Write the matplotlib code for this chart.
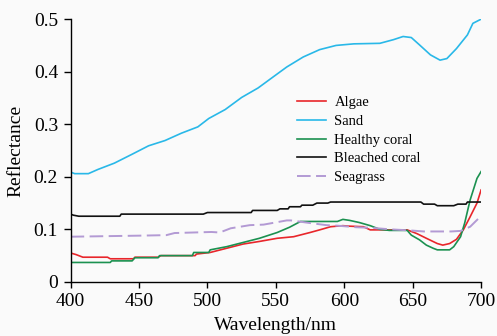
import matplotlib
matplotlib.use("Agg")
from matplotlib import pyplot as plt

# wavelengths (nm) and reflectance, one pair per class
sand_wl = [400, 403, 413, 420, 432, 445, 457, 469, 481, 493, 501, 513, 525, 537, 548,
           558, 570, 582, 594, 607, 626, 636, 643, 649, 655, 663, 670, 675, 682, 690, 694, 700]
sand = [0.209, 0.206, 0.206, 0.214, 0.226, 0.243, 0.259, 0.269, 0.283, 0.295, 0.311, 0.328,
        0.351, 0.369, 0.390, 0.409, 0.428, 0.442, 0.450, 0.453, 0.454, 0.461, 0.467, 0.465,
        0.451, 0.432, 0.422, 0.425, 0.444, 0.470, 0.492, 0.500]

algae_wl = [400, 404, 409, 427, 429, 446, 447, 464, 466, 491, 492, 502, 514, 526, 538, 551,
            563, 575, 582, 590, 599, 604, 614, 619, 646, 648, 653, 660, 668, 672, 677, 682,
            687, 692, 697, 700]
algae = [0.055, 0.052, 0.047, 0.047, 0.044, 0.044, 0.047, 0.047, 0.050, 0.050, 0.053, 0.056,
         0.064, 0.072, 0.077, 0.083, 0.086, 0.094, 0.099, 0.105, 0.107, 0.106, 0.105, 0.099,
         0.099, 0.097, 0.092, 0.083, 0.073, 0.070, 0.073, 0.081, 0.099, 0.124, 0.150, 0.175]

healthy_wl = [400, 429, 430, 445, 447, 464, 465, 489, 490, 501, 502, 514, 526, 538, 551, 560,
              568, 595, 599, 604, 611, 619, 626, 633, 646, 649, 655, 660, 665, 668, 677, 680,
              685, 688, 692, 697, 700]
healthy = [0.037, 0.037, 0.040, 0.040, 0.046, 0.046, 0.050, 0.050, 0.056, 0.056, 0.061, 0.067,
           0.075, 0.083, 0.094, 0.104, 0.115, 0.115, 0.119, 0.117, 0.113, 0.107, 0.100, 0.098,
           0.098, 0.089, 0.080, 0.070, 0.064, 0.061, 0.061, 0.067, 0.086, 0.112, 0.156, 0.197,
           0.210]

bleached_wl = [400, 402, 406, 436, 437, 497, 500, 532, 533, 551, 553, 559, 560, 568, 569, 577,
               580, 588, 590, 656, 658, 666, 668, 680, 683, 689, 690, 700]
bleached = [0.129, 0.127, 0.125, 0.125, 0.129, 0.129, 0.132, 0.132, 0.136, 0.136, 0.139,
            0.139, 0.143, 0.143, 0.146, 0.146, 0.150, 0.150, 0.152, 0.152, 0.148, 0.148, 0.145,
            0.145, 0.148, 0.148, 0.152, 0.152]

seagrass_wl = [400, 450, 470, 476, 503, 509, 517, 531, 541, 558, 561, 575, 587, 595, 609,
               619, 634, 648, 658, 678, 685, 692, 699, 700]
seagrass = [0.086, 0.088, 0.089, 0.093, 0.095, 0.094, 0.102, 0.108, 0.109, 0.117, 0.117,
            0.112, 0.108, 0.107, 0.104, 0.103, 0.100, 0.098, 0.096, 0.096, 0.097, 0.105,
            0.123, 0.125]

xticks = [400, 450, 500, 550, 600, 650, 700]
yticks = [0, 0.1, 0.2, 0.3, 0.4, 0.5]
ytick_labels = ["0", "0.1", "0.2", "0.3", "0.4", "0.5"]

plt.rcParams['font.family'] = ['Liberation Serif', 'DejaVu Serif']

fig = plt.figure(figsize=(4.97, 3.36), dpi=100, facecolor='#fafafa')
ax = fig.add_axes([0.142, 0.161, 0.826, 0.782])
ax.set_facecolor('#fafafa')

ax.plot(algae_wl, algae, color='#e8262b', lw=1.2, label='Algae')
ax.plot(sand_wl, sand, color='#29b8e8', lw=1.2, label='Sand')
ax.plot(healthy_wl, healthy, color='#1b9150', lw=1.2, label='Healthy coral')
ax.plot(bleached_wl, bleached, color='#111111', lw=1.2, label='Bleached coral')
ax.plot(seagrass_wl, seagrass, color='#b39ad4', lw=1.4, ls=(0, (7, 2.8)), label='Seagrass')

ax.set_xlim(400, 700)
ax.set_ylim(0, 0.5)
ax.set_xticks(xticks)
ax.set_yticks(yticks)
ax.set_yticklabels(ytick_labels)
ax.tick_params(direction='out', width=1, labelsize=14)
ax.tick_params(axis='x', length=4, pad=4)
ax.tick_params(axis='y', length=5, pad=4)
for side in ('top', 'right'):
    ax.spines[side].set_visible(False)
for side in ('left', 'bottom'):
    ax.spines[side].set_linewidth(1)

ax.set_xlabel('Wavelength/nm', fontsize=14)
ax.set_ylabel('Reflectance', fontsize=14)
ax.xaxis.set_label_coords(0.5, -0.135)
ax.yaxis.set_label_coords(-0.112, 0.5)

ax.legend(loc='center left', bbox_to_anchor=(0.552, 0.54), frameon=False, fontsize=10.5,
          handlelength=2.0, handletextpad=0.55, labelspacing=0.38, borderpad=0, borderaxespad=0)

fig.savefig('out.png', dpi=100, facecolor=fig.get_facecolor())
